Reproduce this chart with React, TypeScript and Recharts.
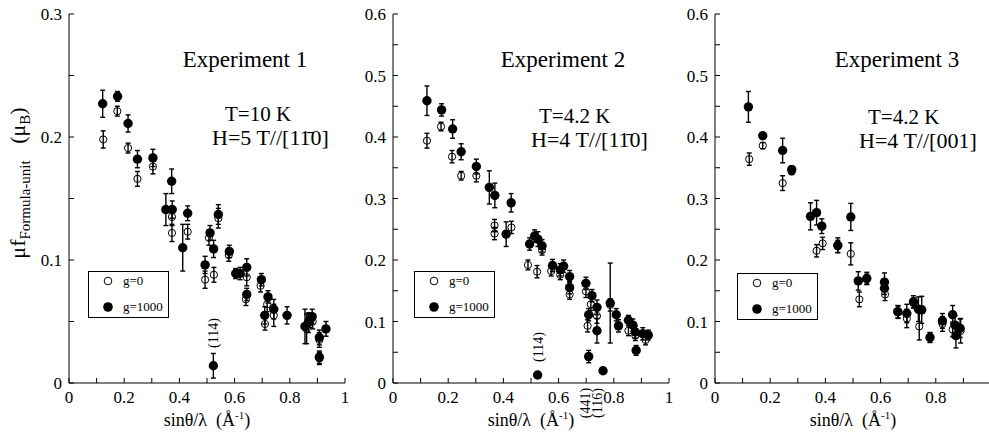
import React from "react";
import { ScatterChart, Scatter, XAxis, YAxis, ErrorBar, Legend } from "recharts";

// each point: [sinθ/λ, μf, error]
type Pt = [number, number, number];

const xTicks = [0, 0.1, 0.2, 0.3, 0.4, 0.5, 0.6, 0.7, 0.8, 0.9, 1];
const yTicksExp1 = [0, 0.05, 0.1, 0.15, 0.2, 0.25, 0.3];
const yTicksExp23 = [0, 0.05, 0.1, 0.15, 0.2, 0.25, 0.3, 0.35, 0.4, 0.45, 0.5, 0.55, 0.6];

const exp1Open: Pt[] = [
  [0.124, 0.198, 0.007], [0.175, 0.221, 0.004], [0.214, 0.191, 0.004], [0.248, 0.166, 0.006],
  [0.304, 0.176, 0.006], [0.373, 0.135, 0.007], [0.373, 0.122, 0.007], [0.43, 0.123, 0.006],
  [0.507, 0.118, 0.006], [0.541, 0.134, 0.008], [0.493, 0.084, 0.007], [0.525, 0.088, 0.006],
  [0.579, 0.104, 0.005], [0.604, 0.089, 0.004], [0.644, 0.086, 0.007], [0.641, 0.068, 0.005],
  [0.694, 0.079, 0.005], [0.71, 0.048, 0.005], [0.718, 0.064, 0.006], [0.742, 0.055, 0.009],
  [0.861, 0.044, 0.012], [0.883, 0.05, 0.006], [0.907, 0.035, 0.006], [0.907, 0.02, 0.005],
];
const exp1Filled: Pt[] = [
  [0.122, 0.227, 0.011], [0.176, 0.233, 0.004], [0.214, 0.211, 0.007], [0.248, 0.182, 0.007],
  [0.304, 0.183, 0.007], [0.372, 0.164, 0.01], [0.351, 0.141, 0.013], [0.374, 0.141, 0.007],
  [0.43, 0.138, 0.006], [0.412, 0.11, 0.019], [0.541, 0.137, 0.008], [0.511, 0.122, 0.006],
  [0.524, 0.109, 0.007], [0.493, 0.096, 0.007], [0.581, 0.107, 0.005], [0.604, 0.089, 0.004],
  [0.62, 0.089, 0.005], [0.644, 0.094, 0.007], [0.644, 0.072, 0.005], [0.697, 0.084, 0.005],
  [0.721, 0.07, 0.005], [0.709, 0.055, 0.007], [0.742, 0.06, 0.008], [0.79, 0.055, 0.007],
  [0.855, 0.046, 0.014], [0.867, 0.049, 0.008], [0.873, 0.051, 0.006], [0.881, 0.054, 0.006],
  [0.907, 0.037, 0.006], [0.931, 0.044, 0.006], [0.907, 0.021, 0.005], [0.523, 0.014, 0.01],
];

const exp2Open: Pt[] = [
  [0.123, 0.394, 0.012], [0.174, 0.417, 0.007], [0.214, 0.368, 0.01], [0.247, 0.337, 0.007],
  [0.302, 0.337, 0.01], [0.368, 0.256, 0.01], [0.368, 0.243, 0.01], [0.429, 0.253, 0.01],
  [0.489, 0.192, 0.008], [0.522, 0.181, 0.01], [0.54, 0.216, 0.008], [0.573, 0.182, 0.008],
  [0.606, 0.176, 0.008], [0.64, 0.144, 0.008], [0.699, 0.149, 0.01], [0.705, 0.093, 0.01],
  [0.717, 0.128, 0.01], [0.739, 0.109, 0.012], [0.787, 0.127, 0.01], [0.853, 0.085, 0.008],
  [0.878, 0.077, 0.008], [0.915, 0.07, 0.008],
];
const exp2Filled: Pt[] = [
  [0.123, 0.459, 0.024], [0.176, 0.444, 0.01], [0.216, 0.413, 0.015], [0.247, 0.376, 0.013],
  [0.302, 0.352, 0.012], [0.349, 0.318, 0.027], [0.369, 0.305, 0.02], [0.428, 0.293, 0.015],
  [0.41, 0.242, 0.02], [0.495, 0.226, 0.01], [0.513, 0.239, 0.01], [0.525, 0.234, 0.012],
  [0.54, 0.223, 0.01], [0.578, 0.191, 0.01], [0.606, 0.184, 0.01], [0.618, 0.19, 0.01],
  [0.64, 0.173, 0.01], [0.64, 0.155, 0.01], [0.699, 0.162, 0.01], [0.721, 0.142, 0.01],
  [0.709, 0.111, 0.01], [0.739, 0.123, 0.012], [0.739, 0.085, 0.02], [0.709, 0.043, 0.01],
  [0.761, 0.02, 0.004], [0.524, 0.013, 0.004], [0.787, 0.13, 0.065], [0.809, 0.111, 0.01],
  [0.817, 0.093, 0.01], [0.853, 0.102, 0.008], [0.869, 0.094, 0.01], [0.878, 0.083, 0.01],
  [0.881, 0.053, 0.008], [0.905, 0.08, 0.01], [0.925, 0.078, 0.008],
];

const exp3Open: Pt[] = [
  [0.124, 0.364, 0.01], [0.173, 0.386, 0.005], [0.245, 0.325, 0.012], [0.278, 0.344, 0.005],
  [0.368, 0.215, 0.01], [0.39, 0.227, 0.01], [0.445, 0.222, 0.01], [0.492, 0.21, 0.018],
  [0.523, 0.136, 0.012], [0.55, 0.169, 0.008], [0.616, 0.144, 0.01], [0.664, 0.115, 0.01],
  [0.695, 0.105, 0.015], [0.719, 0.13, 0.008], [0.74, 0.092, 0.022], [0.779, 0.074, 0.008],
  [0.824, 0.096, 0.012], [0.861, 0.087, 0.012], [0.89, 0.085, 0.02],
];
const exp3Filled: Pt[] = [
  [0.121, 0.449, 0.025], [0.173, 0.402, 0.005], [0.245, 0.378, 0.02], [0.278, 0.347, 0.006],
  [0.346, 0.271, 0.022], [0.368, 0.277, 0.02], [0.387, 0.255, 0.012], [0.445, 0.224, 0.012],
  [0.492, 0.27, 0.022], [0.519, 0.166, 0.015], [0.55, 0.17, 0.01], [0.614, 0.164, 0.015],
  [0.614, 0.154, 0.01], [0.662, 0.116, 0.01], [0.695, 0.113, 0.015], [0.719, 0.132, 0.01],
  [0.737, 0.12, 0.02], [0.749, 0.119, 0.022], [0.779, 0.074, 0.008], [0.824, 0.101, 0.012],
  [0.861, 0.111, 0.015], [0.87, 0.094, 0.015], [0.873, 0.077, 0.02], [0.888, 0.089, 0.015],
];

const SERIF = '"Liberation Serif", "Times New Roman", serif';
const toRows = (pts: Pt[]) => pts.map(([x, y, e]) => ({ x, y, e }));
const everyFifth = (v: number) => (Math.abs(v * 5 - Math.round(v * 5)) < 1e-6 ? String(v) : "");
// the third panel runs off the right edge, so its "1" is never seen
const everyFifthNoOne = (v: number) => (v >= 1 ? "" : everyFifth(v));
const everyTenth = (v: number) => (Math.abs(v * 10 - Math.round(v * 10)) < 1e-6 ? String(v) : "");
const blank = () => "";
const ONE_BAR = "1\u0304"; // 1 with a bar over it

const OpenDot = (p: any) => <circle cx={p.cx} cy={p.cy} r={3.6} fill="none" stroke="#000" strokeWidth={1} />;
const FilledDot = (p: any) => <circle cx={p.cx} cy={p.cy} r={4.7} fill="#000" />;

function LegendBox() {
  return (
    <div style={{ border: "1px solid #000", width: 79, height: 45, fontFamily: SERIF }}>
      <svg width={79} height={45} style={{ display: "block" }}>
        <circle cx={19} cy={9} r={3.8} fill="none" stroke="#000" />
        <text x={34} y={13} fontSize={13}>g=0</text>
        <circle cx={19} cy={35} r={4.8} fill="#000" />
        <text x={34} y={39} fontSize={13}>g=1000</text>
      </svg>
    </div>
  );
}

function XTitle(props: any) {
  const vb = props.viewBox;
  return (
    <text x={vb.x + vb.width / 2} y={426} textAnchor="middle" fontSize={18} fontFamily={SERIF}>
      {"sinθ/λ\u00a0\u00a0(Å"}
      <tspan fontSize={11} dy={-7}>-1</tspan>
      <tspan dy={7}>)</tspan>
    </text>
  );
}

interface PanelProps {
  left: number;
  axisW: number;
  yMax: number;
  yTicks: number[];
  open: Pt[];
  filled: Pt[];
  legendPos: [number, number];
  xFormat?: (v: number) => string;
  children?: React.ReactNode;
}

function Panel({ left, axisW, yMax, yTicks, open, filled, legendPos, xFormat = everyFifth, children }: PanelProps) {
  const tickStyle = { fontSize: 17, fill: "#000", fontFamily: SERIF };
  return (
    <div style={{ position: "absolute", left, top: 0 }}>
      <ScatterChart width={axisW + 286} height={445} margin={{ top: 14, right: 10, bottom: 0, left: 0 }}>
        <XAxis
          type="number" dataKey="x" domain={[0, 1]} ticks={xTicks} interval={0}
          height={62} tick={tickStyle} tickFormatter={xFormat}
          tickSize={-5} tickMargin={13} stroke="#000" allowDataOverflow
          label={<XTitle />}
        />
        <XAxis
          xAxisId="top" orientation="top" type="number" domain={[0, 1]} ticks={xTicks}
          interval={0} height={0} tickFormatter={blank} tickSize={-5} stroke="#000"
        />
        <YAxis
          type="number" dataKey="y" domain={[0, yMax]} ticks={yTicks} interval={0}
          width={axisW} tick={tickStyle} tickFormatter={everyTenth}
          tickSize={-5} tickMargin={12} stroke="#000" allowDataOverflow
        />
        <YAxis
          yAxisId="right" orientation="right" type="number" domain={[0, yMax]} ticks={yTicks}
          interval={0} width={0} tickFormatter={blank} tickSize={-5} stroke="#000"
        />
        <Legend
          layout="horizontal" verticalAlign="middle"
          wrapperStyle={{ left: legendPos[0], top: legendPos[1], width: "auto", height: "auto" }}
          content={() => <LegendBox />}
        />
        <Scatter name="g=0" data={toRows(open)} shape={OpenDot} isAnimationActive={false}>
          <ErrorBar dataKey="e" direction="y" width={2.5} stroke="#000" strokeWidth={1.4} />
        </Scatter>
        <Scatter name="g=1000" data={toRows(filled)} shape={FilledDot} isAnimationActive={false}>
          <ErrorBar dataKey="e" direction="y" width={2.5} stroke="#000" strokeWidth={1.4} />
        </Scatter>
        {children}
      </ScatterChart>
    </div>
  );
}

const Vert = ({ x, y, label }: { x: number; y: number; label: string }) => (
  <text x={x} y={y} transform={`rotate(-90 ${x} ${y})`} textAnchor="middle" dominantBaseline="central"
    fontSize={14} fontFamily={SERIF}>{label}</text>
);

export default function App() {
  const big = { fontFamily: SERIF, fill: "#000" };
  return (
    <div style={{ position: "fixed", left: 0, top: 0, width: 989, height: 445, overflow: "hidden", background: "#fff", fontFamily: SERIF }}>
      <Panel left={0} axisW={69} yMax={0.3} yTicks={yTicksExp1} open={exp1Open} filled={exp1Filled} legendPos={[88, 271]}>
        <text {...big} x={245} y={67} textAnchor="middle" fontSize={23}>Experiment 1</text>
        <text {...big} x={225} y={121} fontSize={21}>T=10 K</text>
        <text {...big} x={212} y={145} fontSize={22}>{`H=5 T//[1${ONE_BAR}0]`}</text>
        <Vert x={213} y={333} label="(114)" />
        <text {...big} x={25} y={183} transform="rotate(-90 25 183)" textAnchor="middle" fontSize={22}>
          μf<tspan fontSize={15} dy={5}>Formula-unit</tspan>
          <tspan dy={-5}>{"\u00a0\u00a0\u00a0(μ"}</tspan>
          <tspan fontSize={15} dy={5}>B</tspan>
          <tspan dy={-5}>)</tspan>
        </text>
      </Panel>
      <Panel left={333} axisW={60} yMax={0.6} yTicks={yTicksExp23} open={exp2Open} filled={exp2Filled} legendPos={[81, 271]}>
        <text {...big} x={230} y={67} textAnchor="middle" fontSize={23}>Experiment 2</text>
        <text {...big} x={206} y={123} fontSize={21}>T=4.2 K</text>
        <text {...big} x={198} y={147} fontSize={22}>{`H=4 T//[1${ONE_BAR}0]`}</text>
        <Vert x={205} y={347} label="(114)" />
        <Vert x={252} y={403} label="(441)" />
        <Vert x={264} y={403} label="(116)" />
      </Panel>
      <Panel left={655} axisW={60} yMax={0.6} yTicks={yTicksExp23} open={exp3Open} filled={exp3Filled} legendPos={[82, 273]} xFormat={everyFifthNoOne}>
        <text {...big} x={242} y={67} textAnchor="middle" fontSize={23}>Experiment 3</text>
        <text {...big} x={213} y={124} fontSize={21}>T=4.2 K</text>
        <text {...big} x={204} y={148} fontSize={22}>H=4 T//[001]</text>
      </Panel>
    </div>
  );
}
